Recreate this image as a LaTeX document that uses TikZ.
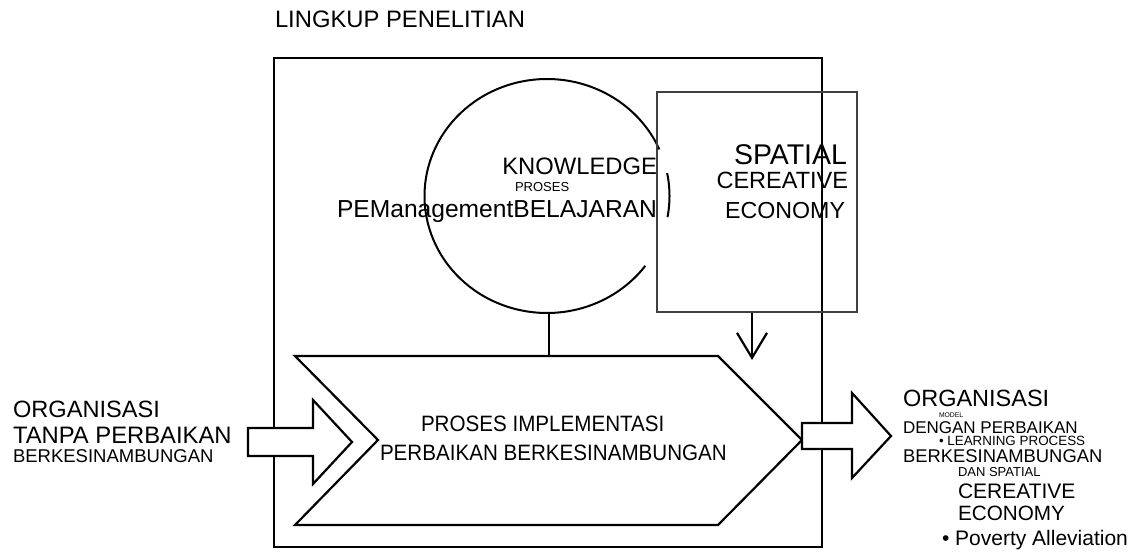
\documentclass[tikz,border=0pt]{standalone}
\usepackage{fontspec}
\setmainfont{Liberation Sans}
\usetikzlibrary{arrows.meta}
\newcommand\pxfont[1]{\fontsize{#1}{#1}\selectfont}
\begin{document}
\begin{tikzpicture}[x=1pt,y=-1pt,
  lbl/.style={inner sep=0pt,outer sep=0pt},
  ln/.style={line width=2.2pt,line join=miter},
  blockarrow/.style={ln,fill=white}]
\useasboundingbox (0,0) rectangle (1140,553);

% title
\node[lbl,anchor=base west] (title) at (275,28) {\pxfont{23.8}LINGKUP PENELITIAN};

% research scope frame
\node[ln,draw,minimum width=548pt,minimum height=489pt,inner sep=0pt] (frame) at (548,302.5) {};

% knowledge circle (open arc)
\coordinate (cc) at (547,196);
\draw[line width=2pt,domain=23.5:323.4,samples=120,smooth,variable=\t]
  plot ({547+122.5*cos(\t)},{196-117*sin(\t)});
\draw[line width=2pt,domain=-10.4:11.3,samples=20,smooth,variable=\t]
  plot ({547+122.5*cos(\t)},{196-117*sin(\t)});
\coordinate (cbot) at (549,313);

% spatial box
\node[line width=2pt,draw=black!75,minimum width=200pt,minimum height=220pt,inner sep=0pt] (spatial) at (757,202) {};
\coordinate (sdown) at (752,360);
\draw[ln,-{Straight Barb[length=25pt,width=30pt,line width=2.2pt]}] (spatial.south -| sdown) -- (sdown);

% process chevron
\coordinate (ch1) at (295,356);
\coordinate (ch2) at (718,356);
\coordinate (chtip) at (802,440);
\coordinate (ch4) at (718,525);
\coordinate (ch5) at (295,525);
\coordinate (chnotch) at (378,440);
\draw[ln] (ch1) -- (ch2) -- (chtip) -- (ch4) -- (ch5) -- (chnotch) -- cycle;
\draw[ln] (cbot) -- (cbot |- ch1);

\node[lbl,anchor=base west] (p1) at (421,431) {\pxfont{20.6}\scalebox{1}[1.08]{PROSES IMPLEMENTASI}};
\node[lbl,anchor=base west] (p2) at (380,460) {\pxfont{20.6}\scalebox{1}[1.08]{PERBAIKAN BERKESINAMBUNGAN}};

% input arrow
\draw[blockarrow] (248,428) -- (313,428) -- (313,400) -- (352,442) -- (313,484) -- (313,456) -- (248,456) -- cycle;
% output arrow
\draw[blockarrow] (chtip |- 0,423) -- (852,423) -- (852,393) -- (891,436) -- (852,478) -- (852,449) -- (chtip |- 0,449) -- cycle;

% circle labels
\node[lbl,anchor=base east] (k1) at (657,175) {\pxfont{23.8}KNOWLEDGE};
\node[lbl,anchor=base west] (k2) at (515,192) {\pxfont{13}PROSES};
\node[lbl,anchor=base east] (k3) at (657,218) {\pxfont{24.6}PEManagementBELAJARAN};

% spatial labels
\node[lbl,anchor=base east] (s1) at (847,165) {\pxfont{28.5}SPATIAL};
\node[lbl,anchor=base east] (s2) at (848,189) {\pxfont{23.5}CEREATIVE};
\node[lbl,anchor=base east] (s3) at (845,219) {\pxfont{23.2}ECONOMY};

% left labels
\node[lbl,anchor=base west] (l1) at (13,417) {\pxfont{23.6}ORGANISASI};
\node[lbl,anchor=base west] (l2) at (13,443) {\pxfont{23.8}TANPA PERBAIKAN};
\node[lbl,anchor=base west] (l3) at (13,462) {\pxfont{18.5}BERKESINAMBUNGAN};

% right labels
\node[lbl,anchor=base west] (r1) at (903,406) {\pxfont{23.5}ORGANISASI};
\node[lbl,anchor=base west] (r2) at (939,417) {\pxfont{6.8}MODEL};
\node[lbl,anchor=base west] (r3) at (903,433) {\pxfont{17}DENGAN PERBAIKAN};
\node[lbl,anchor=base west] (r4) at (939,445) {\pxfont{13.4}• LEARNING PROCESS};
\node[lbl,anchor=base west] (r5) at (903,462) {\pxfont{18.4}BERKESINAMBUNGAN};
\node[lbl,anchor=base west] (r6) at (958,476) {\pxfont{13}DAN SPATIAL};
\node[lbl,anchor=base west] (r7) at (958,498) {\pxfont{21}CEREATIVE};
\node[lbl,anchor=base west] (r8) at (958,520) {\pxfont{20.7}ECONOMY};
\node[lbl,anchor=base west] (r9) at (942,545) {\pxfont{21}• Poverty Alleviation};
\end{tikzpicture}
\end{document}
